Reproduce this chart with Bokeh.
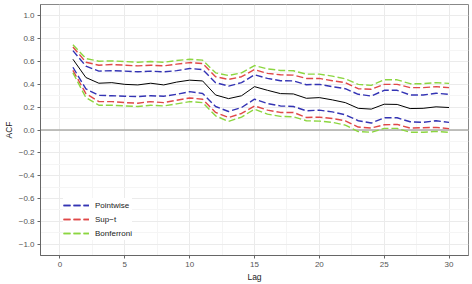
from bokeh.plotting import figure
from bokeh.models import Span, Legend, LegendItem, FixedTicker, Range1d
from bokeh.embed import file_html
from bokeh.resources import INLINE

lags = list(range(1, 31))
acf = [0.62, 0.46, 0.41, 0.415, 0.40, 0.395, 0.41, 0.395, 0.42, 0.437, 0.43, 0.307, 0.275, 0.30, 0.38,
       0.348, 0.319, 0.316, 0.278, 0.284, 0.264, 0.24, 0.19, 0.183, 0.226, 0.224, 0.188, 0.19, 0.203, 0.197]
pw_upper = [0.696, 0.56, 0.516, 0.52, 0.516, 0.51, 0.516, 0.51, 0.52, 0.539, 0.53, 0.415, 0.385, 0.415, 0.484,
            0.452, 0.432, 0.43, 0.397, 0.40, 0.38, 0.362, 0.313, 0.298, 0.348, 0.348, 0.307, 0.307, 0.322, 0.313]
pw_lower = [0.55, 0.36, 0.304, 0.30, 0.296, 0.293, 0.30, 0.296, 0.313, 0.336, 0.32, 0.206, 0.162, 0.197, 0.27,
            0.232, 0.211, 0.206, 0.168, 0.174, 0.159, 0.133, 0.081, 0.061, 0.107, 0.107, 0.072, 0.067, 0.081, 0.067]
sup_upper = [0.728, 0.594, 0.568, 0.574, 0.568, 0.562, 0.568, 0.562, 0.577, 0.591, 0.583, 0.467, 0.443, 0.467, 0.53,
             0.496, 0.484, 0.481, 0.452, 0.452, 0.432, 0.415, 0.362, 0.357, 0.40, 0.40, 0.371, 0.371, 0.38, 0.371]
sup_lower = [0.522, 0.319, 0.249, 0.249, 0.24, 0.235, 0.249, 0.24, 0.261, 0.281, 0.27, 0.154, 0.11, 0.145, 0.211,
             0.174, 0.154, 0.154, 0.11, 0.113, 0.101, 0.081, 0.026, 0.017, 0.046, 0.049, 0.017, 0.02, 0.023, 0.012]
bon_upper = [0.748, 0.626, 0.603, 0.606, 0.6, 0.594, 0.6, 0.594, 0.609, 0.62, 0.612, 0.501, 0.478, 0.501, 0.565,
             0.536, 0.522, 0.519, 0.49, 0.49, 0.472, 0.449, 0.40, 0.391, 0.44, 0.44, 0.406, 0.406, 0.415, 0.409]
bon_lower = [0.501, 0.284, 0.217, 0.217, 0.211, 0.206, 0.217, 0.211, 0.229, 0.249, 0.24, 0.124, 0.075, 0.113, 0.183,
             0.139, 0.119, 0.116, 0.081, 0.078, 0.067, 0.043, -0.014, -0.02, 0.014, 0.014, -0.02, -0.02, -0.012, -0.02]

x_ticks = [0, 5, 10, 15, 20, 25, 30]
x_minor = [2.5, 7.5, 12.5, 17.5, 22.5, 27.5]
y_ticks = [-1.0, -0.8, -0.6, -0.4, -0.2, 0.0, 0.2, 0.4, 0.6, 0.8, 1.0]
y_minor = [-0.9, -0.7, -0.5, -0.3, -0.1, 0.1, 0.3, 0.5, 0.7, 0.9]
y_labels = ["\u22121.0", "\u22120.8", "\u22120.6", "\u22120.4", "\u22120.2", "0.0", "0.2", "0.4", "0.6", "0.8", "1.0"]

series_names = ["Pointwise", "Sup\u2212t", "Bonferroni"]
series_colors = ["#3434B4", "#E04848", "#8CD640"]

FONT = "Liberation Sans"

p = figure(width=472, height=284, output_backend="svg", toolbar_location=None,
           x_range=Range1d(-1.5, 31.5), y_range=Range1d(-1.1, 1.1),
           min_border_left=35, min_border_right=4, min_border_top=4, min_border_bottom=0)
p.background_fill_color = "white"
p.border_fill_color = "white"
p.outline_line_color = "#888888"
p.outline_line_width = 1

p.xaxis.ticker = FixedTicker(ticks=x_ticks, minor_ticks=x_minor)
p.yaxis.ticker = FixedTicker(ticks=y_ticks, minor_ticks=y_minor)
p.yaxis.major_label_overrides = {t: l for t, l in zip(y_ticks, y_labels)}
p.xaxis.axis_label = "Lag"
p.yaxis.axis_label = "ACF"

for ax in (p.xaxis, p.yaxis):
    ax.axis_line_color = "#666666"
    ax.major_tick_line_color = "#666666"
    ax.minor_tick_line_color = None
    ax.major_tick_in = 0
    ax.major_tick_out = 3
    ax.major_label_standoff = 2
    ax.axis_label_standoff = 2
    ax.major_label_text_font = FONT
    ax.major_label_text_font_size = "8px"
    ax.major_label_text_color = "#555555"
    ax.axis_label_text_font = FONT
    ax.axis_label_text_font_size = "8.5px"
    ax.axis_label_text_font_style = "normal"
    ax.axis_label_text_color = "#222222"

p.xgrid.grid_line_color = "#EBEBEB"
p.ygrid.grid_line_color = "#EBEBEB"
p.xgrid.minor_grid_line_color = "#F5F5F5"
p.ygrid.minor_grid_line_color = "#F5F5F5"

zero = Span(location=0, dimension="width", line_color="#ADADA8", line_width=1.6, level="underlay")
p.add_layout(zero)

bands = [(pw_upper, pw_lower), (sup_upper, sup_lower), (bon_upper, bon_lower)]
items = []
for (up, lo), name, col in zip(bands, series_names, series_colors):
    r1 = p.line(lags, up, line_color=col, line_width=1.4, line_dash="7 3")
    r2 = p.line(lags, lo, line_color=col, line_width=1.4, line_dash="7 3")
    items.append(LegendItem(label=name, renderers=[r1, r2]))

p.line(lags, acf, line_color="black", line_width=1.0)

legend = Legend(items=items, location=(23, 15))
legend.background_fill_color = "white"
legend.background_fill_alpha = 1.0
legend.border_line_color = None
legend.label_text_font = FONT
legend.label_text_font_size = "8px"
legend.label_text_color = "#222222"
legend.glyph_width = 26
legend.glyph_height = 14
legend.label_height = 14
legend.spacing = 0
legend.padding = 4
legend.margin = 0
legend.label_standoff = 6
p.add_layout(legend, "center")

open("out.html", "w").write(file_html(p, INLINE))
